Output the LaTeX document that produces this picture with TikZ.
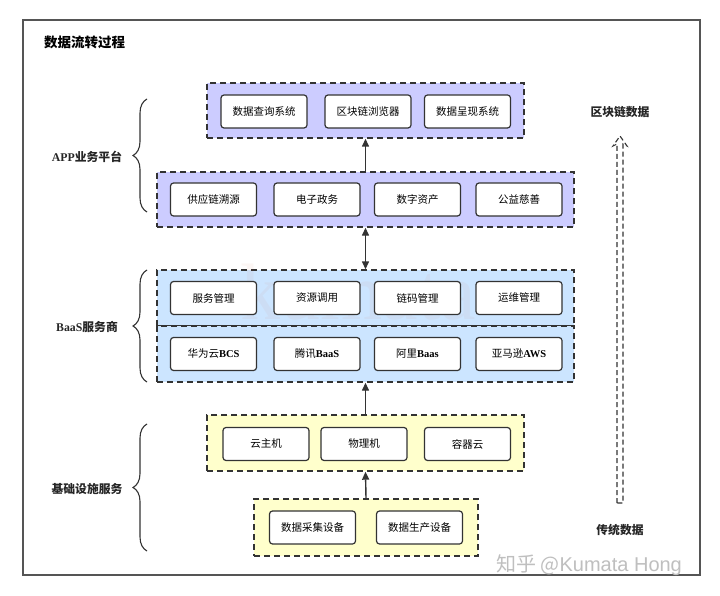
\documentclass[tikz,border=0pt]{standalone}
\usepackage{fontspec}
\setmainfont{Liberation Serif}
\newfontfamily\cjk{Noto Sans CJK SC}
\usetikzlibrary{arrows.meta,decorations.pathreplacing}
\definecolor{purp}{HTML}{CCCCFF}
\definecolor{bluef}{HTML}{CCE5FF}
\definecolor{yell}{HTML}{FFFFCC}
\definecolor{edge}{HTML}{333333}
\definecolor{frame}{HTML}{555555}
\begin{document}
\begin{tikzpicture}[x=1pt,y=-1pt,
  grp/.style={draw=edge, line width=1.4pt, dash pattern=on 6pt off 4pt, inner sep=0pt},
  box/.style={draw=edge, line width=1.2pt, fill=white, rounded corners=3pt, minimum width=86pt, minimum height=33pt, inner sep=0pt, font=\cjk\fontsize{10.5}{12}\selectfont},
  lbl/.style={font=\cjk\bfseries\fontsize{11.8}{14}\selectfont, text=black!85, inner sep=0pt},
  arr/.style={draw=edge, line width=1.4pt, -{Triangle[length=8pt,width=7pt]}},
  darr/.style={draw=edge, line width=1.4pt, {Triangle[length=8pt,width=7pt]}-{Triangle[length=8pt,width=7pt]}},
  brc/.style={draw=edge, line width=1.1pt, decorate, decoration={brace, amplitude=14pt}}
]
\useasboundingbox (0,0) rectangle (720,596);
\fill[white] (0,0) rectangle (720,596);
% outer frame
\node[draw=frame, line width=1.6pt, minimum width=677pt, minimum height=555pt, inner sep=0pt] (frm) at (361.5,297.5) {};
\node[font=\cjk\bfseries\fontsize{13.5}{16}\selectfont, anchor=west, inner sep=0pt] (title) at (44,42) {数据流转过程};

% groups
\node[grp, fill=purp, minimum width=317pt, minimum height=55pt] (g1) at (365.5,110.5) {};
\node[grp, fill=purp, minimum width=417pt, minimum height=55pt] (g2) at (365.5,199.5) {};
\node[grp, fill=bluef, minimum width=417pt, minimum height=56pt] (g3) at (365.5,298) {};
\node[grp, fill=bluef, minimum width=417pt, minimum height=56pt] (g4) at (365.5,354) {};
\node[grp, fill=yell, minimum width=317pt, minimum height=56pt] (g5) at (365.5,443) {};
\node[grp, fill=yell, minimum width=224pt, minimum height=57pt] (g6) at (366,527.5) {};

% faint watermark (under the boxes' text layer)
\node[font=\rmfamily\fontsize{80}{80}\selectfont, text=red!30!brown, text opacity=0.05, inner sep=0pt] (wm1) at (358,292) {kumata};

% boxes
\node[box] (a1) at (264,111.5) {数据查询系统};
\node[box] (a2) at (368,111.5) {区块链浏览器};
\node[box] (a3) at (467.5,111.5) {数据呈现系统};

\node[box] (b1) at (213.5,199.5) {供应链溯源};
\node[box] (b2) at (317,199.5) {电子政务};
\node[box] (b3) at (417.5,199.5) {数字资产};
\node[box] (b4) at (519,199.5) {公益慈善};

\node[box] (c1) at (213.5,298) {服务管理};
\node[box] (c2) at (317,298) {资源调用};
\node[box] (c3) at (417.5,298) {链码管理};
\node[box] (c4) at (519,298) {运维管理};

\node[box] (d1) at (213.5,354) {华为云{\rmfamily\bfseries BCS}};
\node[box] (d2) at (317,354) {腾讯{\rmfamily\bfseries BaaS}};
\node[box] (d3) at (417.5,354) {阿里{\rmfamily\bfseries Baas}};
\node[box] (d4) at (519,354) {亚马逊{\rmfamily\bfseries AWS}};

\node[box] (e1) at (266,444) {云主机};
\node[box] (e2) at (364,444) {物理机};
\node[box] (e3) at (467.5,444) {容器云};

\node[box] (f1) at (312.5,527.5) {数据采集设备};
\node[box] (f2) at (419.5,527.5) {数据生产设备};

% arrows
\draw[arr] (g2.north) -- (g1.south);
\draw[darr] (g2.south) -- (g3.north);
\draw[arr] (g5.north) -- (g4.south);
\draw[arr] (g6.north) -- (g5.south);

% braces
\coordinate (br1b) at (147,212);
\coordinate (br1t) at (147,99);
\coordinate (br2b) at (147,382);
\coordinate (br2t) at (147,270);
\coordinate (br3b) at (147,551);
\coordinate (br3t) at (147,424);
\draw[brc] (br1b) -- (br1t);
\draw[brc] (br2b) -- (br2t);
\draw[brc] (br3b) -- (br3t);
\node[lbl] (l1) at (87,157) {{\rmfamily APP}业务平台};
\node[lbl] (l2) at (87,327) {{\rmfamily BaaS}服务商};
\node[lbl] (l3) at (87,489) {基础设施服务};

% right hollow dashed arrow
\node[lbl, inner sep=0pt] (rt) at (620,112) {区块链数据};
\node[lbl, inner sep=0pt] (rb) at (620,530) {传统数据};
\coordinate (hb) at (620,503);
\coordinate (ht) at (620,136);
\draw[draw=edge, line width=1.1pt, dash pattern=on 5pt off 3pt, line join=miter]
  ([xshift=-3pt]hb) -- ([xshift=-3pt,yshift=-8pt]ht) -- ([xshift=-7pt,yshift=-10pt]ht) -- (ht)
  -- ([xshift=7pt,yshift=-10pt]ht) -- ([xshift=3pt,yshift=-8pt]ht) -- ([xshift=3pt]hb) -- cycle;

% corner watermark
\node[font=\cjk\fontsize{20}{22}\selectfont, text=black!25, anchor=west, inner sep=0pt] (wm2) at (496,565) {知乎 @{\fontspec{Liberation Sans}Kumata Hong}};
\end{tikzpicture}
\end{document}
